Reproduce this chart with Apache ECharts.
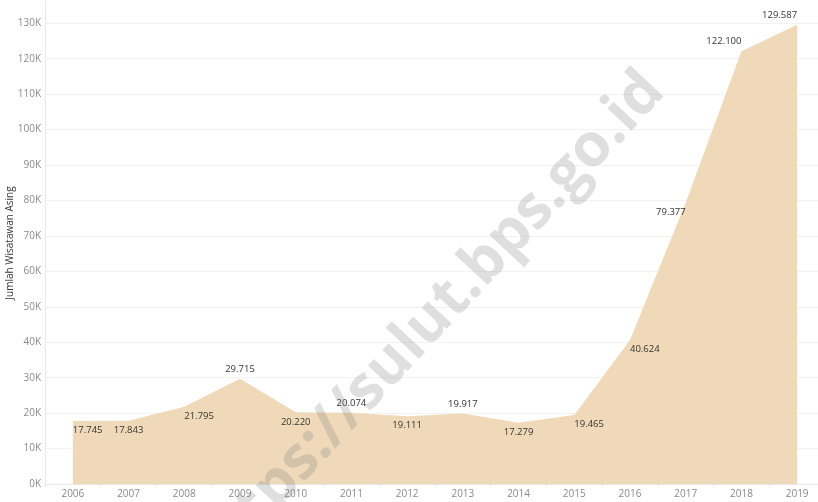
<!DOCTYPE html>
<html>
<head>
<meta charset="utf-8">
<script src="https://cdn.jsdelivr.net/npm/echarts@6/dist/echarts.min.js"></script>
<style>
  html, body { margin: 0; padding: 0; background: #fff; }
  #chart { width: 818px; height: 502px; }
</style>
</head>
<body>
<div id="chart"></div>
<script>
const years = ['2006', '2007', '2008', '2009', '2010', '2011', '2012',
  '2013', '2014', '2015', '2016', '2017', '2018', '2019']
const visitors = [17745, 17843, 21795, 29715, 20220, 20074, 19111,
  19917, 17279, 19465, 40624, 79377, 122100, 129587]
// where each value label sits: t/b = above/below, l/c/r = text alignment
const labelPlace = ['bl', 'bc', 'bl', 'tc', 'bc', 'tc', 'bc',
  'tc', 'bc', 'bl', 'bl', 'br', 'tr', 'tr']

const font = '"Open Sans", "DejaVu Sans", sans-serif'
const alignOf = { l: 'left', c: 'center', r: 'right' }

function dots(v) {
  return String(v).replace(/\B(?=(\d{3})+(?!\d))/g, '.')
}

const seriesData = visitors.map((v, i) => {
  const p = labelPlace[i]
  return {
    value: v,
    label: {
      position: p[0] === 't' ? 'top' : 'bottom',
      align: alignOf[p[1]],
      distance: 4
    }
  }
})

const chart = echarts.init(document.getElementById('chart'))
chart.setOption({
  animation: false,
  textStyle: { fontFamily: font },
  grid: { left: 45, right: -7, top: 2, bottom: 18, containLabel: false, outerBoundsMode: 'none' },
  xAxis: {
    type: 'category',
    data: years,
    boundaryGap: true,
    axisLine: { lineStyle: { color: '#e8e8e8' } },
    axisTick: { show: true, length: 3, lineStyle: { color: '#e8e8e8' } },
    axisLabel: { color: '#8a8a8a', fontSize: 10, margin: 5, fontFamily: font }
  },
  yAxis: {
    type: 'value',
    min: 0,
    max: 136000,
    interval: 10000,
    name: 'Jumlah Wisatawan Asing',
    nameLocation: 'middle',
    nameGap: 30,
    nameMoveOverlap: false,
    nameTextStyle: { color: '#333', fontSize: 10, fontFamily: font },
    axisLine: { show: true, lineStyle: { color: '#e8e8e8' } },
    axisTick: { show: false },
    axisLabel: {
      color: '#8a8a8a', fontSize: 10, margin: 4, fontFamily: font,
      showMaxLabel: false,
      formatter: v => (v / 1000) + 'K'
    },
    splitLine: { showMaxLine: false, lineStyle: { color: '#f2f2f2' } }
  },
  series: [{
    type: 'line',
    data: seriesData,
    symbol: 'circle',
    symbolSize: 1,
    showSymbol: true,
    itemStyle: { color: 'rgba(0,0,0,0)' },
    lineStyle: { width: 0 },
    areaStyle: { color: '#efd9b8', opacity: 1 },
    label: {
      show: true,
      color: '#333',
      fontSize: 9.5,
      fontFamily: font,
      formatter: p => dots(p.value)
    },
    labelLayout: { hideOverlap: false }
  }],
  graphic: [{
    type: 'text',
    x: 428,
    y: 324,
    rotation: Math.PI * 47 / 180,
    z: 100,
    silent: true,
    style: {
      text: 'https://sulut.bps.go.id',
      fill: 'rgba(128,128,128,0.25)',
      font: 'bold 60px "Open Sans", sans-serif',
      align: 'center',
      verticalAlign: 'middle'
    }
  }]
})
</script>
</body>
</html>
